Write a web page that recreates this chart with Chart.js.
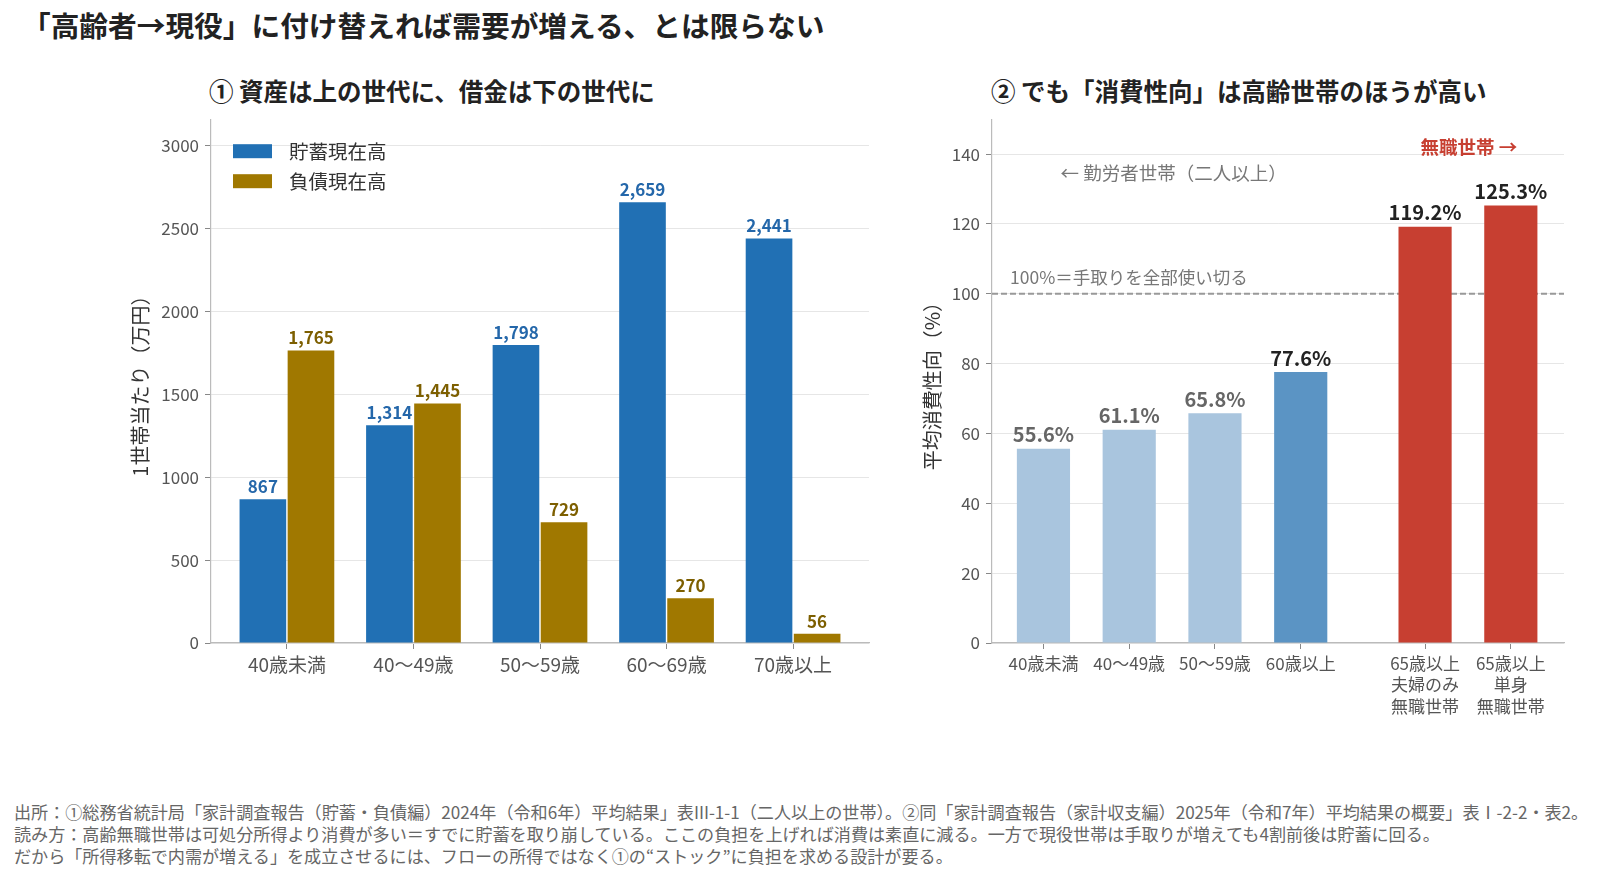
<!DOCTYPE html>
<html>
<head>
<meta charset="utf-8">
<script src="https://cdn.jsdelivr.net/npm/chart.js@4.4.1/dist/chart.umd.min.js"></script>
<style>
body { margin: 0; width: 1600px; height: 878px; background: #fff; position: relative; overflow: hidden;
  font-family: 'Noto Sans CJK JP', sans-serif; }
#title { position: absolute; left: 22px; top: 7px; font-size: 28.7px; font-weight: bold; color: #222; line-height: 36px; white-space: nowrap; }
.sub { position: absolute; top: 75px; font-size: 24.5px; font-weight: bold; color: #222; line-height: 32px; white-space: nowrap; }
.box { position: absolute; }
#notes { position: absolute; left: 14px; top: 801px; font-size: 17.1px; color: #666; line-height: 22px; white-space: nowrap; }
</style>
</head>
<body>
<div id="title">「高齢者→現役」に付け替えれば需要が増える、とは限らない</div>
<div class="sub" style="left:209px">① 資産は上の世代に、借金は下の世代に</div>
<div class="sub" style="left:991px">② でも「消費性向」は高齢世帯のほうが高い</div>
<div class="box" style="left:0;top:103px;width:880px;height:600px"><canvas id="stock"></canvas></div>
<div class="box" style="left:880px;top:103px;width:720px;height:635px"><canvas id="mpc"></canvas></div>
<div id="notes">
出所：①総務省統計局「家計調査報告（貯蓄・負債編）2024年（令和6年）平均結果」表III-1-1（二人以上の世帯）。②同「家計調査報告（家計収支編）2025年（令和7年）平均結果の概要」表Ⅰ-2-2・表2。<br>
読み方：高齢無職世帯は可処分所得より消費が多い＝すでに貯蓄を取り崩している。ここの負担を上げれば消費は素直に減る。一方で現役世帯は手取りが増えても4割前後は貯蓄に回る。<br>
だから「所得移転で内需が増える」を成立させるには、フローの所得ではなく①の“ストック”に負担を求める設計が要る。
</div>
<script>
// ① 貯蓄・負債（万円）
var ageGroups = ["40歳未満", "40～49歳", "50～59歳", "60～69歳", "70歳以上"];
var savings = [867, 1314, 1798, 2659, 2441];
var debts = [1765, 1445, 729, 270, 56];
var stockTicks = [0, 500, 1000, 1500, 2000, 2500, 3000];

// ② 平均消費性向（%）
var mpcLabels = [["40歳未満"], ["40～49歳"], ["50～59歳"], ["60歳以上"],
    ["65歳以上", "夫婦のみ", "無職世帯"], ["65歳以上", "単身", "無職世帯"]];
var mpcPos = [0, 1, 2, 3, 4.45, 5.45];
var mpcValues = [55.6, 61.1, 65.8, 77.6, 119.2, 125.3];
var mpcTicks = [0, 20, 40, 60, 80, 100, 120, 140];

var mpcColors = ['#a9c5de', '#a9c5de', '#a9c5de', '#5b94c4', '#c73f31', '#c73f31'];
var mpcTextColors = ['#666', '#666', '#666', '#222', '#222', '#222'];

Chart.defaults.font.family = "'Noto Sans CJK JP', sans-serif";
Chart.defaults.color = '#555';

function valueLabels(font, fmt) {
    return {
        id: 'valueLabels',
        afterDatasetsDraw: function (chart) {
            var ctx = chart.ctx;
            ctx.save();
            ctx.font = font;
            ctx.textAlign = 'center';
            ctx.textBaseline = 'bottom';
            chart.data.datasets.forEach(function (ds, i) {
                chart.getDatasetMeta(i).data.forEach(function (bar, j) {
                    ctx.fillStyle = Array.isArray(ds.labelColor) ? ds.labelColor[j] : ds.labelColor;
                    ctx.fillText(fmt(ds.data[j].y), bar.x, bar.y - 4);
                });
            });
            ctx.restore();
        }
    };
}

var innerLegend = {
    id: 'innerLegend',
    afterDraw: function (chart) {
        var ctx = chart.ctx, a = chart.chartArea;
        ctx.save();
        ctx.font = "19.5px 'Noto Sans CJK JP'";
        ctx.textBaseline = 'middle';
        chart.data.datasets.forEach(function (ds, i) {
            var y = a.top + 25 + i * 30;
            ctx.fillStyle = ds.backgroundColor;
            ctx.fillRect(a.left + 22, y, 39, 14);
            ctx.fillStyle = '#333';
            ctx.fillText(ds.label, a.left + 78, y + 7);
        });
        ctx.restore();
    }
};

var refLine = {
    id: 'refLine',
    beforeDatasetsDraw: function (chart) {
        var ctx = chart.ctx, a = chart.chartArea, y = chart.scales.y.getPixelForValue(100);
        ctx.save();
        ctx.strokeStyle = '#999';
        ctx.lineWidth = 2;
        ctx.setLineDash([6, 3]);
        ctx.beginPath();
        ctx.moveTo(a.left, y);
        ctx.lineTo(a.right, y);
        ctx.stroke();
        ctx.restore();
    },
    afterDatasetsDraw: function (chart) {
        var ctx = chart.ctx, sx = chart.scales.x, sy = chart.scales.y;
        ctx.save();
        ctx.textBaseline = 'middle';
        ctx.font = "17.5px 'Noto Sans CJK JP'";
        ctx.fillStyle = '#777';
        ctx.textAlign = 'left';
        ctx.fillText('100%＝手取りを全部使い切る', sx.getPixelForValue(-0.39), sy.getPixelForValue(104.6));
        ctx.font = "18.5px 'Noto Sans CJK JP'";
        ctx.fillText('← 勤労者世帯（二人以上）', sx.getPixelForValue(0.2), sy.getPixelForValue(134.7));
        ctx.font = "bold 18.5px 'Noto Sans CJK JP'";
        ctx.fillStyle = '#c73f31';
        ctx.textAlign = 'center';
        ctx.fillText('無職世帯 →', sx.getPixelForValue(4.96), sy.getPixelForValue(142));
        ctx.restore();
    }
};

new Chart(document.getElementById('stock'), {
    type: 'bar',
    data: {
        datasets: [{
            label: '貯蓄現在高',
            data: savings.map(function (v, i) { return {x: i, y: v}; }),
            backgroundColor: '#2170b4',
            labelColor: '#2467aa',
            categoryPercentage: 0.76,
            barPercentage: 0.97
        }, {
            label: '負債現在高',
            data: debts.map(function (v, i) { return {x: i, y: v}; }),
            backgroundColor: '#a07800',
            labelColor: '#7d5f00',
            categoryPercentage: 0.76,
            barPercentage: 0.97
        }]
    },
    options: {
        responsive: true,
        maintainAspectRatio: false,
        animation: false,
        layout: {padding: {left: 128, right: 11, top: 10, bottom: 0}},
        plugins: {legend: {display: false}, tooltip: {enabled: false}},
        scales: {
            x: {
                type: 'linear', min: -0.6, max: 4.6, offset: false,
                afterBuildTicks: function (s) { s.ticks = ageGroups.map(function (c, i) { return {value: i}; }); },
                ticks: {
                    autoSkip: false, maxRotation: 0, padding: 4, color: '#555', font: {size: 19},
                    callback: function (v, i) { return ageGroups[i]; }
                },
                grid: {offset: false, drawOnChartArea: false, tickColor: '#888', tickLength: 6},
                border: {color: '#bbb', width: 1.2},
                afterFit: function (s) { s.height = 60; }
            },
            y: {
                min: 0, max: 3160,
                afterBuildTicks: function (s) { s.ticks = stockTicks.map(function (v) { return {value: v}; }); },
                ticks: {color: '#555', font: {size: 17}, padding: 6, callback: function (v) { return String(v); }},
                grid: {color: '#e6e6e6', tickColor: '#888', tickLength: 6},
                border: {color: '#bbb', width: 1.2},
                title: {display: true, text: '1世帯当たり（万円）', color: '#333', font: {size: 20}, padding: {top: 0, bottom: 4}},
                afterFit: function (s) { s.width = 83; }
            }
        }
    },
    plugins: [valueLabels("bold 17px 'Noto Sans CJK JP'", function (v) { return v.toLocaleString('en-US'); }), innerLegend]
});

new Chart(document.getElementById('mpc'), {
    type: 'bar',
    data: {
        datasets: [{
            label: '平均消費性向',
            data: mpcValues.map(function (v, i) { return {x: mpcPos[i], y: v}; }),
            backgroundColor: mpcColors,
            labelColor: mpcTextColors,
            categoryPercentage: 1,
            barPercentage: 0.62
        }]
    },
    options: {
        responsive: true,
        maintainAspectRatio: false,
        animation: false,
        layout: {padding: {left: 40, right: 36, top: 10, bottom: 0}},
        plugins: {legend: {display: false}, tooltip: {enabled: false}},
        scales: {
            x: {
                type: 'linear', min: -0.6, max: 6.07, offset: false,
                afterBuildTicks: function (s) { s.ticks = mpcPos.map(function (p) { return {value: p}; }); },
                ticks: {
                    autoSkip: false, maxRotation: 0, padding: 4, color: '#555', font: {size: 17, lineHeight: 1.25},
                    callback: function (v, i) { return mpcLabels[i]; }
                },
                grid: {offset: false, drawOnChartArea: false, tickColor: '#888', tickLength: 6},
                border: {color: '#bbb', width: 1.2},
                afterFit: function (s) { s.height = 95; }
            },
            y: {
                min: 0, max: 150,
                afterBuildTicks: function (s) { s.ticks = mpcTicks.map(function (v) { return {value: v}; }); },
                ticks: {color: '#555', font: {size: 17}, padding: 6, callback: function (v) { return String(v); }},
                grid: {color: '#e6e6e6', tickColor: '#888', tickLength: 6},
                border: {color: '#bbb', width: 1.2},
                title: {display: true, text: '平均消費性向（%）', color: '#333', font: {size: 20}, padding: {top: 0, bottom: 4}},
                afterFit: function (s) { s.width = 72; }
            }
        }
    },
    plugins: [valueLabels("bold 20px 'Noto Sans CJK JP'", function (v) { return v.toFixed(1) + '%'; }), refLine]
});
</script>
</body>
</html>
